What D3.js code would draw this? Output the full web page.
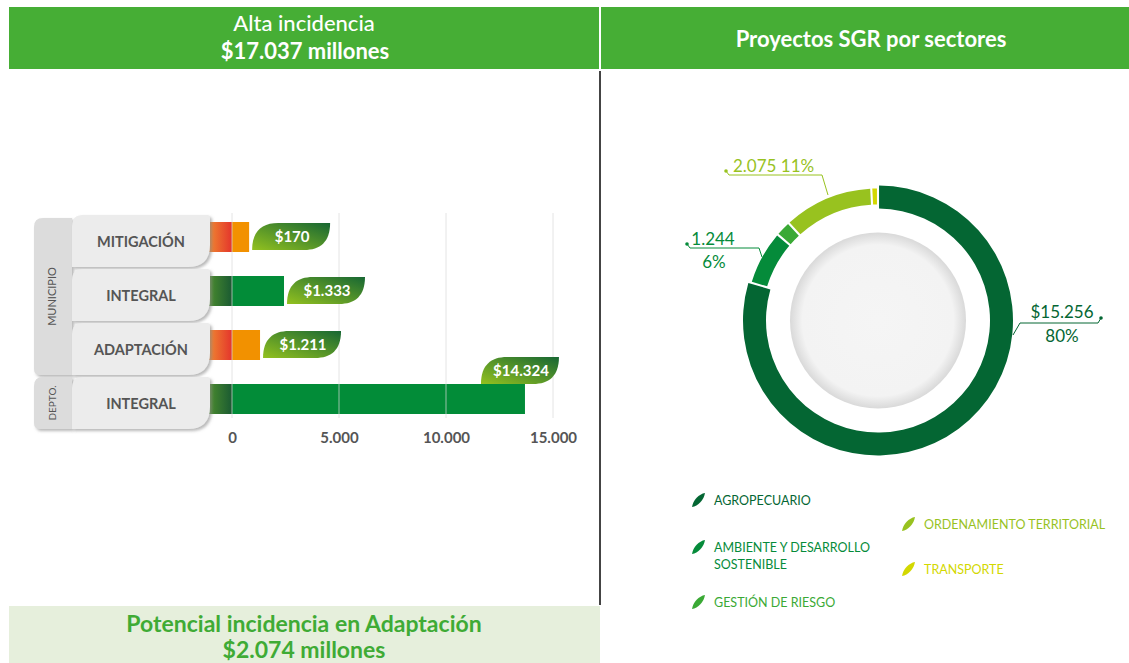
<!DOCTYPE html>
<html>
<head>
<meta charset="utf-8">
<script src="https://cdn.jsdelivr.net/npm/d3@7"></script>
<style>
  body { margin: 0; background: #fff; }
  text { font-family: Lato, "Open Sans", sans-serif; }
</style>
</head>
<body>
<div id="chart"></div>
<script>
var width = 1129;
var height = 663;

// barras (valores leidos sobre el eje) y etiquetas
var categorias = ["MITIGACIÓN", "INTEGRAL", "ADAPTACIÓN", "INTEGRAL"];
var tipos = ["mit", "int", "mit", "int"];
var valoresBarra = [800, 2430, 1310, 13690];
var etiquetas = ["$170", "$1.333", "$1.211", "$14.324"];
var grupos = ["MUNICIPIO", "DEPTO."];
var filasGrupo = [3, 1];
var ticksX = [0, 5000, 10000, 15000];

// dona
var sectores = ["AGROPECUARIO", "AMBIENTE Y DESARROLLO SOSTENIBLE", "GESTIÓN DE RIESGO", "ORDENAMIENTO TERRITORIAL", "TRANSPORTE"];
var valoresSector = [15256, 1244, 330, 2075, 120];
var coloresSector = ["#046633", "#058b3a", "#3aa935", "#98c21f", "#d3d800"];
var textosDona = [["$15.256", "80%"], ["1.244", "6%"], ["2.075 11%"]];

var svg = d3.select("#chart").append("svg")
  .attr("width", width)
  .attr("height", height);

var defs = svg.append("defs");

var sh = defs.append("filter").attr("id", "sombra")
  .attr("x", "-10%").attr("y", "-10%").attr("width", "130%").attr("height", "140%");
sh.append("feDropShadow").attr("dx", 2).attr("dy", 2).attr("stdDeviation", 1.5)
  .attr("flood-color", "#888").attr("flood-opacity", 0.6);

function grad(id, c0, c1, x1, y1, x2, y2) {
  var g = defs.append("linearGradient").attr("id", id)
    .attr("x1", x1).attr("y1", y1).attr("x2", x2).attr("y2", y2);
  g.append("stop").attr("offset", "0%").attr("stop-color", c0);
  g.append("stop").attr("offset", "100%").attr("stop-color", c1);
}
grad("gMit", "#f08a30", "#e4352c", 0, 0, 1, 0);
grad("gInt", "#4c8d2d", "#1a5a32", 0, 0, 1, 0);
grad("gTag", "#93c11f", "#176733", 0, 1, 1, 0);

var rg = defs.append("radialGradient").attr("id", "gDisco");
rg.append("stop").attr("offset", "0%").attr("stop-color", "#f5f5f5");
rg.append("stop").attr("offset", "86%").attr("stop-color", "#f3f3f3");
rg.append("stop").attr("offset", "100%").attr("stop-color", "#d9d9d9");

// ---- encabezados ----
svg.append("rect").attr("x", 9).attr("y", 7).attr("width", 590).attr("height", 62).attr("fill", "#46ae35");
svg.append("rect").attr("x", 601).attr("y", 7).attr("width", 528).attr("height", 62).attr("fill", "#46ae35");

svg.append("text").attr("x", 304).attr("y", 31).attr("text-anchor", "middle")
  .attr("fill", "#fff").style("font-size", "22px").style("font-weight", 500).text("Alta incidencia");
svg.append("text").attr("x", 305).attr("y", 59).attr("text-anchor", "middle")
  .attr("fill", "#fff").style("font-size", "22px").style("font-weight", 700).text("$17.037 millones");
svg.append("text").attr("x", 871).attr("y", 47).attr("text-anchor", "middle")
  .attr("fill", "#fff").style("font-size", "22px").style("font-weight", 700).text("Proyectos SGR por sectores");

svg.append("line").attr("x1", 600).attr("x2", 600).attr("y1", 71).attr("y2", 605)
  .attr("stroke", "#444").attr("stroke-width", 2);

// ---- pie inferior ----
svg.append("rect").attr("x", 9).attr("y", 606).attr("width", 591).attr("height", 57).attr("fill", "#e6efdc");
svg.append("text").attr("x", 304).attr("y", 632).attr("text-anchor", "middle")
  .attr("fill", "#3fab35").style("font-size", "23px").style("font-weight", 700).text("Potencial incidencia en Adaptación");
svg.append("text").attr("x", 304).attr("y", 658).attr("text-anchor", "middle")
  .attr("fill", "#3fab35").style("font-size", "23px").style("font-weight", 700).text("$2.074 millones");

// ---- barras ----
var x = d3.scaleLinear().domain([0, 15000]).range([232, 553]);
var y = d3.scaleBand().domain(d3.range(categorias.length)).range([215, 431]);

var filas = categorias.map(function(c, i) {
  return {cat: c, tipo: tipos[i], valor: valoresBarra[i], etiqueta: etiquetas[i], i: i};
});

// rectangulo con radios distintos: tl, tr, br, bl
function boxPath(x0, y0, x1, y1, tl, tr, br, bl) {
  return "M" + x0 + "," + (y0 + tl) +
    "Q" + x0 + "," + y0 + " " + (x0 + tl) + "," + y0 +
    "L" + (x1 - tr) + "," + y0 +
    "Q" + x1 + "," + y0 + " " + x1 + "," + (y0 + tr) +
    "L" + x1 + "," + (y1 - br) +
    "Q" + x1 + "," + y1 + " " + (x1 - br) + "," + y1 +
    "L" + (x0 + bl) + "," + y1 +
    "Q" + x0 + "," + y1 + " " + x0 + "," + (y1 - bl) + "Z";
}

// cajas de grupo
var g0 = 0;
grupos.forEach(function(gname, k) {
  var yTop = y(g0) + (k == 0 ? 3 : 0);
  var yBot = y(g0 + filasGrupo[k] - 1) + y.bandwidth() - 2;
  svg.append("path")
    .attr("d", boxPath(34, yTop, 72, yBot, 9, 0, 0, 6))
    .attr("fill", "#dcdcdc")
    .attr("filter", "url(#sombra)");
  var cy = (yTop + yBot) / 2;
  svg.append("text")
    .attr("transform", "translate(56," + cy + ") rotate(-90)")
    .attr("text-anchor", "middle")
    .attr("fill", "#555")
    .style("font-size", k == 0 ? "11px" : "10px")
    .text(gname);
  g0 += filasGrupo[k];
});

// tramo decorativo con degradado
svg.selectAll(".stub")
  .data(filas)
  .enter().append("rect")
    .attr("class", "stub")
    .attr("x", 208)
    .attr("y", function(d) { return y(d.i) + 7; })
    .attr("width", x(0) - 208)
    .attr("height", 30)
    .attr("fill", function(d) { return d.tipo == "mit" ? "url(#gMit)" : "url(#gInt)"; });

svg.selectAll(".bar")
  .data(filas)
  .enter().append("rect")
    .attr("class", "bar")
    .attr("x", x(0))
    .attr("y", function(d) { return y(d.i) + 7; })
    .attr("width", function(d) { return x(d.valor) - x(0); })
    .attr("height", 30)
    .attr("fill", function(d) { return d.tipo == "mit" ? "#f29100" : "#028c38"; });

// lineas de cuadricula
svg.selectAll(".grid")
  .data(ticksX)
  .enter().append("line")
    .attr("class", "grid")
    .attr("x1", function(d) { return x(d); })
    .attr("x2", function(d) { return x(d); })
    .attr("y1", 213)
    .attr("y2", 418)
    .attr("stroke", "#d8d8d8")
    .attr("stroke-opacity", 0.7);

// cajas de categoria
svg.selectAll(".cat")
  .data(filas)
  .enter().append("path")
    .attr("class", "cat")
    .attr("d", function(d) { return boxPath(72, y(d.i), 210, y(d.i) + 52, 11, 3, 22, 0); })
    .attr("fill", "#ececec")
    .attr("filter", "url(#sombra)");

svg.selectAll(".catlabel")
  .data(filas)
  .enter().append("text")
    .attr("class", "catlabel")
    .attr("x", 141)
    .attr("y", function(d) { return y(d.i) + 32; })
    .attr("text-anchor", "middle")
    .attr("fill", "#555")
    .style("font-size", "14.5px")
    .style("font-weight", 700)
    .text(function(d) { return d.cat; });

// etiquetas en forma de hoja
var tagW = 78, tagH = 27;
function tagX(d) { return d.i == 3 ? x(d.valor) - 44 : x(d.valor) + 3; }
function tagY(d) { return d.i == 3 ? y(d.i) - 20 : y(d.i) + 8; }
function tagPath(d) {
  var x0 = tagX(d), y0 = tagY(d), x1 = x0 + tagW, y1 = y0 + tagH;
  return "M" + x0 + "," + y1 +
    "C" + x0 + "," + (y0 + 8) + " " + (x0 + 10) + "," + y0 + " " + (x0 + 26) + "," + y0 +
    "L" + x1 + "," + y0 +
    "C" + x1 + "," + (y1 - 8) + " " + (x1 - 10) + "," + y1 + " " + (x1 - 26) + "," + y1 + "Z";
}
svg.selectAll(".tag")
  .data(filas)
  .enter().append("path")
    .attr("class", "tag")
    .attr("d", tagPath)
    .attr("fill", "url(#gTag)");

svg.selectAll(".taglabel")
  .data(filas)
  .enter().append("text")
    .attr("class", "taglabel")
    .attr("x", function(d) { return tagX(d) + tagW / 2 + 1; })
    .attr("y", function(d) { return tagY(d) + 19; })
    .attr("text-anchor", "middle")
    .attr("fill", "#fff")
    .style("font-size", "15px")
    .style("font-weight", 700)
    .text(function(d) { return d.etiqueta; });

// eje x
var axis = svg.append("g")
  .attr("transform", "translate(0,443)")
  .call(d3.axisBottom(x).tickValues(ticksX).tickSize(0)
    .tickFormat(function(d) { return d3.format(",")(d).replace(/,/g, "."); }));
axis.select(".domain").remove();
axis.selectAll("text")
  .attr("y", 0).attr("dy", 0)
  .attr("fill", "#555")
  .style("font-family", "Lato, sans-serif")
  .style("font-size", "15px")
  .style("font-weight", 700);

// ---- dona ----
var cx = 878, cy = 320.5;
var dona = svg.append("g").attr("transform", "translate(" + cx + "," + cy + ")");

dona.append("circle").attr("r", 88).attr("fill", "url(#gDisco)");

var pie = d3.pie().sort(null).value(function(d) { return d; }).padAngle(0.012);
var arcs = pie(valoresSector);
var arcGrande = d3.arc().innerRadius(112).outerRadius(135);
var arcChico = d3.arc().innerRadius(116).outerRadius(132);

dona.selectAll(".slice")
  .data(arcs)
  .enter().append("path")
    .attr("class", "slice")
    .attr("d", function(d, i) { return i == 0 ? arcGrande(d) : arcChico(d); })
    .attr("fill", function(d, i) { return coloresSector[i]; });

// lineas guia de etiquetas
var guias = [
  {col: coloresSector[0], pts: [[1013, 335], [1020, 323], [1098, 323], [1101, 318]]},
  {col: coloresSector[1], pts: [[762, 257], [759, 248], [690, 248], [687, 244]]},
  {col: coloresSector[3], pts: [[828, 195], [822, 175], [729, 175], [726, 171]]}
];
guias.forEach(function(g) {
  svg.append("path")
    .attr("d", d3.line()(g.pts))
    .attr("fill", "none")
    .attr("stroke", g.col)
    .attr("stroke-width", 1);
  var e = g.pts[g.pts.length - 1];
  svg.append("circle").attr("cx", e[0]).attr("cy", e[1]).attr("r", 1.8).attr("fill", g.col);
});

svg.append("text").attr("x", 1062).attr("y", 318).attr("text-anchor", "middle")
  .attr("fill", coloresSector[0]).style("font-size", "17px").text(textosDona[0][0]);
svg.append("text").attr("x", 1062).attr("y", 342).attr("text-anchor", "middle")
  .attr("fill", coloresSector[0]).style("font-size", "17px").text(textosDona[0][1]);
svg.append("text").attr("x", 713).attr("y", 245).attr("text-anchor", "middle")
  .attr("fill", coloresSector[1]).style("font-size", "17px").text(textosDona[1][0]);
svg.append("text").attr("x", 714).attr("y", 268).attr("text-anchor", "middle")
  .attr("fill", coloresSector[1]).style("font-size", "17px").text(textosDona[1][1]);
svg.append("text").attr("x", 733).attr("y", 172)
  .attr("fill", coloresSector[3]).style("font-size", "17px").text(textosDona[2][0]);

// ---- leyenda ----
var leyendaPos = [[692, 500], [692, 547], [692, 602], [902, 524], [902, 569]];
var leyenda = svg.selectAll(".ley")
  .data(sectores)
  .enter().append("g")
    .attr("class", "ley")
    .attr("transform", function(d, i) { return "translate(" + leyendaPos[i][0] + "," + leyendaPos[i][1] + ")"; });

leyenda.append("path")
  .attr("d", "M0,7 C1,0 7,-6 13,-7 C12,0 6,6 0,7 Z")
  .attr("fill", function(d, i) { return coloresSector[i]; });

leyenda.each(function(d, i) {
  var t = d3.select(this).append("text")
    .attr("x", 22)
    .attr("y", 5)
    .attr("fill", coloresSector[i])
    .style("font-size", "12.5px");
  var lines = i == 1 ? ["AMBIENTE Y DESARROLLO", "SOSTENIBLE"] : [d];
  lines.forEach(function(l, k) {
    t.append("tspan").attr("x", 22).attr("dy", k == 0 ? 0 : 17).text(l);
  });
});
</script>
</body>
</html>
